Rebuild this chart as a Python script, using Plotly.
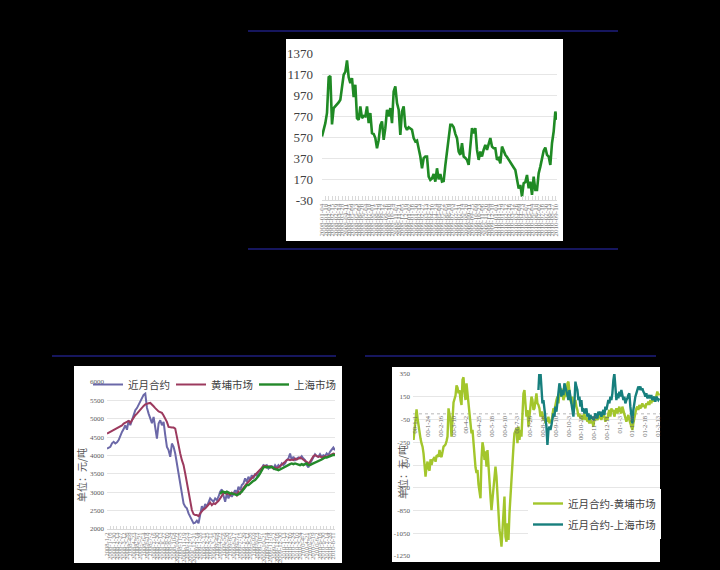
import plotly.graph_objects as go
import pandas as pd
import numpy as np

# ---------------- data ----------------
# Top chart: single price-spread series (weekly)
top_values = [575, 640, 702, 800, 1140, 1150, 690, 845, 860, 877, 900, 925, 1040, 1163, 1190, 1300,
              1140, 1084, 1131, 950, 1068, 750, 734, 861, 750, 770, 766, 861, 702, 798, 606, 598,
              560, 463, 540, 680, 718, 543, 654, 829, 766, 845, 702, 1004, 1052, 893, 829, 590,
              813, 861, 670, 638, 663, 654, 640, 559, 527, 536, 470, 384, 272, 368, 384, 384,
              193, 161, 175, 218, 145, 272, 167, 218, 145, 150, 300, 447, 600, 686, 686, 663,
              600, 559, 431, 400, 511, 384, 370, 352, 304, 511, 654, 606, 654, 447, 352, 431,
              384, 450, 495, 447, 511, 560, 479, 463, 463, 352, 368, 320, 479, 430, 400, 380,
              352, 330, 304, 280, 256, 160, 80, 113, 2, 130, 140, 208, 82, 145, 18, 193,
              66, 66, 224, 288, 352, 440, 470, 400, 384, 304, 511, 622, 813, 734]
top_dates = [d.strftime("%Y-%m-%d") for d in
             pd.date_range("2008-01-04", periods=len(top_values), freq="W-FRI")]
top_yticks = [-30, 170, 370, 570, 770, 970, 1170, 1370]

# Bottom-left chart: prices (元/吨)
bl_near = [4190, 4210, 4235, 4330, 4371, 4326, 4360, 4420, 4552, 4640, 4720, 4824, 4700, 4959, 4824, 4980,
           5080, 5231, 5290, 5380, 5480, 5593, 5650, 5683, 5300, 5140, 4980, 4880, 5050, 4733, 4462, 4869,
           4959, 4824, 4914, 4552, 4235, 4145, 3964, 4326, 4235, 4055, 3783, 3421, 3195, 2878, 2697, 2606,
           2561, 2425, 2335, 2244, 2154, 2172, 2226, 2154, 2450, 2620, 2516, 2679, 2606, 2742, 2833, 2787,
           2742, 2833, 2787, 2878, 3014, 3077, 2878, 2742, 2968, 2833, 2950, 2878, 2968, 3059, 2968, 3149,
           3059, 3195, 3240, 3376, 3285, 3421, 3330, 3466, 3376, 3511, 3439, 3557, 3602, 3647, 3738, 3710,
           3738, 3647, 3692, 3710, 3647, 3738, 3674, 3738, 3692, 3783, 3738, 3783, 3874, 3919, 4055, 3874,
           3964, 3874, 3919, 3945, 3919, 3982, 3919, 3874, 3738, 3674, 3783, 3874, 3964, 4036, 3982, 3964,
           4036, 3964, 4009, 3982, 4055, 4009, 4100, 4145, 4217, 4145]
bl_hp = [4597, 4620, 4643, 4680, 4706, 4720, 4733, 4755, 4778, 4820, 4869, 4900, 4920, 4941, 4887, 4960,
         5030, 5095, 5140, 5200, 5250, 5321, 5350, 5390, 5412, 5420, 5430, 5394, 5340, 5290, 5231, 5200,
         5180, 5159, 5090, 5020, 4914, 4778, 4760, 4760, 4760, 4733, 4507, 4235, 4055, 3874, 3738, 3511,
         3240, 2968, 2697, 2516, 2407, 2380, 2380, 2353, 2425, 2498, 2534, 2561, 2606, 2651, 2715, 2651,
         2697, 2679, 2715, 2769, 2833, 2896, 2968, 2986, 2950, 2968, 2923, 2986, 2950, 2968, 2914, 3014,
         2968, 3059, 3131, 3195, 3240, 3285, 3330, 3376, 3439, 3466, 3511, 3557, 3602, 3674, 3710, 3719,
         3710, 3692, 3710, 3674, 3647, 3674, 3647, 3674, 3710, 3738, 3783, 3828, 3874, 3891, 3874, 3891,
         3874, 3919, 3891, 3910, 3945, 3919, 3874, 3855, 3828, 3783, 3828, 3919, 3982, 4009, 3982, 3964,
         3982, 3945, 3964, 3982, 3964, 3982, 4009, 4036, 4055, 4036]
bl_sh_vals = [2950, 3014, 3014, 2986, 3014, 2986, 2968, 2968, 2950, 2923, 2923, 2941, 2968, 3014, 3077, 3149,
              3195, 3195, 3240, 3285, 3312, 3330, 3376, 3439, 3511, 3602, 3674, 3692, 3674, 3692, 3674, 3692,
              3647, 3629, 3620, 3602, 3620, 3647, 3674, 3692, 3710, 3738, 3765, 3783, 3765, 3783, 3765, 3738,
              3738, 3765, 3738, 3765, 3783, 3738, 3738, 3765, 3783, 3801, 3828, 3855, 3874, 3891, 3919, 3945,
              3945, 3964, 3982, 4000, 4018, 4009]
bl_sh = [None] * (len(bl_near) - len(bl_sh_vals)) + bl_sh_vals
bl_dates = [f"{d.year}-{d.month}-{d.day}" for d in
            pd.date_range("2008-01-02", periods=len(bl_near), freq="W-WED")]
bl_yticks = [2000, 2500, 3000, 3500, 4000, 4500, 5000, 5500, 6000]
bl_names = ["近月合约", "黄埔市场", "上海市场"]

# Bottom-right chart: spreads (元/吨)
br_hp = [-230, -142, -40, 40, -40, -110, -160, -220, -260, -289, -350, -430, -552, -465, -420, -480,
         -500, -400, -450, -410, -390, -380, -421, -370, -365, -377, -318, -370, -380, -320, -289, -280,
         -270, -240, -200, 48, 0, -60, -201, -25, 100, 130, 160, 250, 230, 180, 209, 120,
         78, 300, 321, 190, 121, 268, 170, 100, 20, -70, -172, -142, -259, -318, -470, -520,
         -494, -620, -700, -743, -400, -250, -300, -406, -330, -465, -318, -494, -570, -728, -846, -760,
         -640, -552, -465, -552, -728, -904, -1021, -1080, -1168, -1021, -846, -728, -1080, -1124, -962, -1109,
         -875, -699, -523, -406, -289, -172, -142, -128, -259, -113, -230, -142, -201, 92, 180, 209,
         121, -25, 34, -113, -25, 48, 151, 121, 34, 48, 121, 180, 92, 78,
         48, -25, 19, 4, -54, -25, -84, -40, -69, -25, -84, -54, -69, 4, 48, 34,
         92, 121, 151, 92, 180, 151, 224, 180, 121, 151, 209, 151, 268, 283, 180, 121,
         92, 151, 48, 92, 121, 63, 34, -25, 4, -40, -10, -54, -25, 4, -54, -25,
         -69, -54, -84, -40, -84, -69, -113, -40, -54, -25, -54, -40, -10, -25, -54, -25,
         19, -25, -69, -25, -54, 4, 34, -25, 48, 19, 34, -25, 19, 48, 4, 34,
         63, 19, 4, 63, 34, -10, -25, -69, -40, -10, -54, -84, -98, -142, -84, -25,
         19, 48, 63, 34, 78, 48, 63, 92, 63, 78, 48, 92, 78, 107, 78, 121,
         92, 136, 107, 151, 121, 180, 195, 165, 180]
br_sh_vals = [209, 379, 370, 151, 92, 121, 34, -25, -113, -274, -142, -113, -142, -98, -25, 4,
              -25, 63, 19, 121, 151, 268, 224, 151, 209, 165, 268, 239, 195, 165, 121, 209,
              151, 92, 19, -25, 92, 283, 239, 209, 121, 151, 63, 121, 19, 48, 4, 19,
              48, -25, 4, -54, -10, -40, -25, -54, -40, 4, -25, -40, 19, -10, 19, -25,
              4, 34, -10, 63, 34, 78, 121, 92, 151, 121, 180, 297, 355, 239, 121, 180,
              136, 195, 151, 209, 165, 121, 151, 92, 121, 136, 165, 180, 63, -25, -84, 34,
              121, 151, 180, 224, 239, 224, 239, 209, 224, 195, 180, 151, 180, 136, 151, 165,
              136, 165, 121, 136, 151, 107, 151, 136, 121, 136]
br_sh = [None] * (len(br_hp) - len(br_sh_vals)) + br_sh_vals
br_dates = (pd.Timestamp("1999-12-29") + pd.to_timedelta(np.arange(len(br_hp)) * 1.8, unit="D"))
br_dates = [d.strftime("%Y-%m-%d %H:%M") for d in br_dates]
br_tick_dates = ["2000-01-01", "2000-01-24", "2000-02-16", "2000-03-10", "2000-04-02", "2000-04-25",
                 "2000-05-18", "2000-06-10", "2000-07-03", "2000-07-26", "2000-08-18", "2000-09-10",
                 "2000-10-03", "2000-10-26", "2000-11-18", "2000-12-11", "2001-01-03", "2001-01-26",
                 "2001-02-18", "2001-03-13"]
br_tick_text = ["00-1-1", "00-1-24", "00-2-16", "00-3-10", "00-4-2", "00-4-25", "00-5-18", "00-6-10",
                "00-7-3", "00-7-26", "00-8-18", "00-9-10", "00-10-3", "00-10-26", "00-11-18", "00-12-11",
                "01-1-3", "01-1-26", "01-2-18", "01-3-13"]
br_yticks = [350, 150, -50, -250, -450, -650, -850, -1050, -1250]
br_names = ["近月合约-黄埔市场", "近月合约-上海市场"]
y_unit = "单位：元/吨"

# ---------------- figure ----------------
W, H = 720, 570


def fx(x):
    return x / W


def fy(y):
    return 1 - y / H


SERIF = "Liberation Serif"
CJK = "Noto Sans CJK SC"
GRID = "#d9d9d9"

fig = go.Figure()

fig.add_trace(go.Scatter(x=top_dates, y=top_values, mode="lines", xaxis="x", yaxis="y",
                         line=dict(color="#1f8a24", width=2.6), showlegend=False))

bl_colors = ["#6b68a8", "#9c3a5e", "#23892a"]
for name, vals, col, w in zip(bl_names, [bl_near, bl_hp, bl_sh], bl_colors, [2, 2, 2.4]):
    fig.add_trace(go.Scatter(x=bl_dates, y=vals, mode="lines", name=name, xaxis="x2", yaxis="y2",
                             line=dict(color=col, width=w), legend="legend"))

br_colors = ["#a3c62c", "#177f7d"]
for i, (name, vals, col) in enumerate(zip(br_names, [br_hp, br_sh], br_colors)):
    fig.add_trace(go.Scatter(x=br_dates, y=vals, mode="lines", name=name, xaxis="x3", yaxis="y3",
                             line=dict(color=col, width=2.4), legend="legend2",
                             legendgroup=f"g{i}"))

# bottom-right: category axis crosses at 0
br_dom = [fy(556), fy(374)]
br_rng = [min(br_yticks), max(br_yticks)]
br_pos = br_dom[0] + (0 - br_rng[0]) / (br_rng[1] - br_rng[0]) * (br_dom[1] - br_dom[0])

fig.update_layout(
    width=W, height=H, margin=dict(l=0, r=0, t=0, b=0, autoexpand=False),
    paper_bgcolor="black", plot_bgcolor="white",
    xaxis=dict(domain=[fx(322), fx(557)], anchor="y", type="category", automargin=False,
               range=[0, len(top_dates) - 1], tickmode="array", tickvals=top_dates[::2],
               tickangle=-90, tickfont=dict(size=7, family=SERIF, color="#808080"),
               showgrid=False, ticks="inside", ticklen=4, tickcolor=GRID,
               showline=True, linecolor=GRID),
    yaxis=dict(domain=[fy(200), fy(53)], anchor="x", range=[-30, 1370], tickmode="array",
               automargin=False,
               tickvals=top_yticks, ticktext=[str(v) for v in top_yticks],
               tickfont=dict(size=13, family=SERIF, color="#404040"), gridcolor="#e6e6e6",
               zeroline=False, showline=False, ticklabelstandoff=8),
    xaxis2=dict(domain=[fx(107), fx(335)], anchor="y2", type="category", automargin=False,
                range=[0, len(bl_dates) - 1], tickmode="array", tickvals=bl_dates[::2],
                tickangle=-90, tickfont=dict(size=6.5, family=SERIF, color="#808080"),
                showgrid=False, ticks="inside", ticklen=3, tickcolor=GRID,
                showline=True, linecolor=GRID),
    yaxis2=dict(domain=[fy(529), fy(382)], anchor="x2", range=[2000, 6000], tickmode="array",
                automargin=False,
                tickvals=bl_yticks, ticktext=[str(v) for v in bl_yticks],
                tickfont=dict(size=7, family=SERIF, color="#595959"), gridcolor="#e6e6e6",
                zeroline=False, showline=False, ticklabelstandoff=2),
    xaxis3=dict(domain=[fx(413), fx(660)], anchor="free", position=br_pos, type="date",
                automargin=False,
                range=["1999-12-28", "2001-03-17"], tickmode="array", tickvals=br_tick_dates,
                ticktext=br_tick_text, tickangle=-90,
                tickfont=dict(size=6.5, family=SERIF, color="#666666"),
                showgrid=False, ticks="", showline=False),
    yaxis3=dict(domain=br_dom, anchor="x3", range=br_rng, tickmode="array", automargin=False,
                tickvals=br_yticks, ticktext=[str(v) for v in br_yticks],
                tickfont=dict(size=7, family=SERIF, color="#595959"), gridcolor="#e6e6e6",
                zeroline=False, showline=False, ticklabelstandoff=2),
    legend=dict(orientation="h", x=fx(88), y=fy(370), xanchor="left", yanchor="top",
                bgcolor="rgba(0,0,0,0)", font=dict(size=10.5, family=CJK, color="#404040"),
                itemwidth=30, entrywidth=38, entrywidthmode="pixels",
                borderwidth=0),
    legend2=dict(orientation="v", x=fx(528), y=fy(489), xanchor="left", yanchor="top",
                 bgcolor="white", font=dict(size=10.5, family=CJK, color="#404040"),
                 itemwidth=30, tracegroupgap=2, borderwidth=0),
)

shapes = [
    # white panels
    dict(type="rect", xref="paper", yref="paper", x0=fx(286), x1=fx(563), y0=fy(241), y1=fy(39),
         fillcolor="white", line=dict(width=0), layer="below"),
    dict(type="rect", xref="paper", yref="paper", x0=fx(74), x1=fx(342), y0=fy(563), y1=fy(366),
         fillcolor="white", line=dict(width=0), layer="below"),
    dict(type="rect", xref="paper", yref="paper", x0=fx(392), x1=fx(660), y0=fy(562), y1=fy(367),
         fillcolor="white", line=dict(width=0), layer="below"),
    # navy rules
    dict(type="line", xref="paper", yref="paper", x0=fx(248), x1=fx(618), y0=fy(31), y1=fy(31),
         line=dict(color="#16165e", width=2)),
    dict(type="line", xref="paper", yref="paper", x0=fx(248), x1=fx(618), y0=fy(249), y1=fy(249),
         line=dict(color="#16165e", width=2)),
    dict(type="line", xref="paper", yref="paper", x0=fx(52), x1=fx(336), y0=fy(356), y1=fy(356),
         line=dict(color="#16165e", width=2)),
    dict(type="line", xref="paper", yref="paper", x0=fx(365), x1=fx(656), y0=fy(356), y1=fy(356),
         line=dict(color="#16165e", width=2)),
    # bottom-right category axis line at 0
    dict(type="line", xref="x3 domain", yref="y3", x0=0, x1=1, y0=0, y1=0,
         line=dict(color="#cfcfcf", width=1.5, dash="dot"), layer="below"),
]
fig.update_layout(shapes=shapes)

fig.add_annotation(x=fx(81), y=fy(475), xref="paper", yref="paper", text=y_unit, textangle=-90,
                   xanchor="center", yanchor="middle",
                   showarrow=False, font=dict(size=10, family=CJK, color="#595959"))
fig.add_annotation(x=fx(402), y=fy(472), xref="paper", yref="paper", text=y_unit, textangle=-90,
                   xanchor="center", yanchor="middle",
                   showarrow=False, font=dict(size=10, family=CJK, color="#595959"))

fig.write_html("out.html")
